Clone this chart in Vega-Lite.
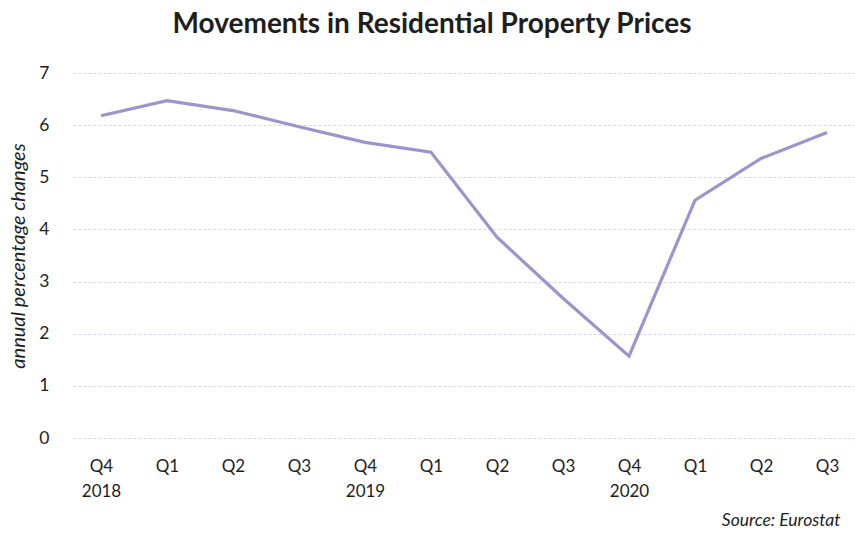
{
  "$schema": "https://vega.github.io/schema/vega-lite/v6.json",
  "width": 782,
  "height": 365,
  "autosize": {"type": "none"},
  "padding": {"left": 73, "top": 73, "right": 0, "bottom": 95},
  "background": "#ffffff",
  "title": {
    "text": "Movements in Residential Property Prices",
    "font": "Lato",
    "fontSize": 28,
    "fontWeight": "bold",
    "color": "#1e1e1e",
    "anchor": "middle",
    "frame": "group",
    "dx": -32,
    "offset": 25
  },
  "config": {
    "view": {"stroke": null},
    "font": "Lato"
  },
  "data": {
    "values": [
      {"period": "Q4 2018", "value": 6.18},
      {"period": "Q1 2019", "value": 6.47},
      {"period": "Q2 2019", "value": 6.28},
      {"period": "Q3 2019", "value": 5.97},
      {"period": "Q4 2019", "value": 5.67},
      {"period": "Q1 2020", "value": 5.48},
      {"period": "Q2 2020", "value": 3.85},
      {"period": "Q3 2020", "value": 2.68},
      {"period": "Q4 2020", "value": 1.57},
      {"period": "Q1 2021", "value": 4.56},
      {"period": "Q2 2021", "value": 5.36},
      {"period": "Q3 2021", "value": 5.86}
    ]
  },
  "mark": {"type": "line", "color": "#9c94cc", "strokeWidth": 3.2},
  "encoding": {
    "x": {
      "field": "period",
      "type": "ordinal",
      "sort": null,
      "scale": {"type": "point", "padding": 0.424},
      "axis": {
        "title": "Source: Eurostat",
        "titleAnchor": "end",
        "titleFont": "Lato",
        "titleFontSize": 17.5,
        "titleFontStyle": "italic",
        "titleFontWeight": "normal",
        "titleColor": "#1e1e1e",
        "titleX": 767,
        "titleY": 91,
        "titleAlign": "right",
        "titleBaseline": "bottom",
        "labelExpr": "indexof(datum.label, 'Q4') == 0 ? split(datum.label, ' ') : [substring(datum.label, 0, 2)]",
        "labelAngle": 0,
        "labelFontSize": 17,
        "labelColor": "#1e1e1e",
        "labelPadding": 20,
        "labelLineHeight": 25,
        "labelBaseline": "top",
        "domain": false,
        "ticks": false,
        "grid": false
      }
    },
    "y": {
      "field": "value",
      "type": "quantitative",
      "scale": {"domain": [0, 7]},
      "axis": {
        "title": "annual percentage changes",
        "titleFont": "Lato",
        "titleFontSize": 20,
        "titleFontStyle": "italic",
        "titleFontWeight": "normal",
        "titleColor": "#1e1e1e",
        "titlePadding": 10,
        "values": [0, 1, 2, 3, 4, 5, 6, 7],
        "labelFontSize": 17.5,
        "labelColor": "#1e1e1e",
        "labelPadding": 24,
        "domain": false,
        "ticks": false,
        "grid": true,
        "gridColor": "#d8d4ec",
        "gridDash": [3, 2],
        "gridWidth": 1
      }
    }
  }
}
